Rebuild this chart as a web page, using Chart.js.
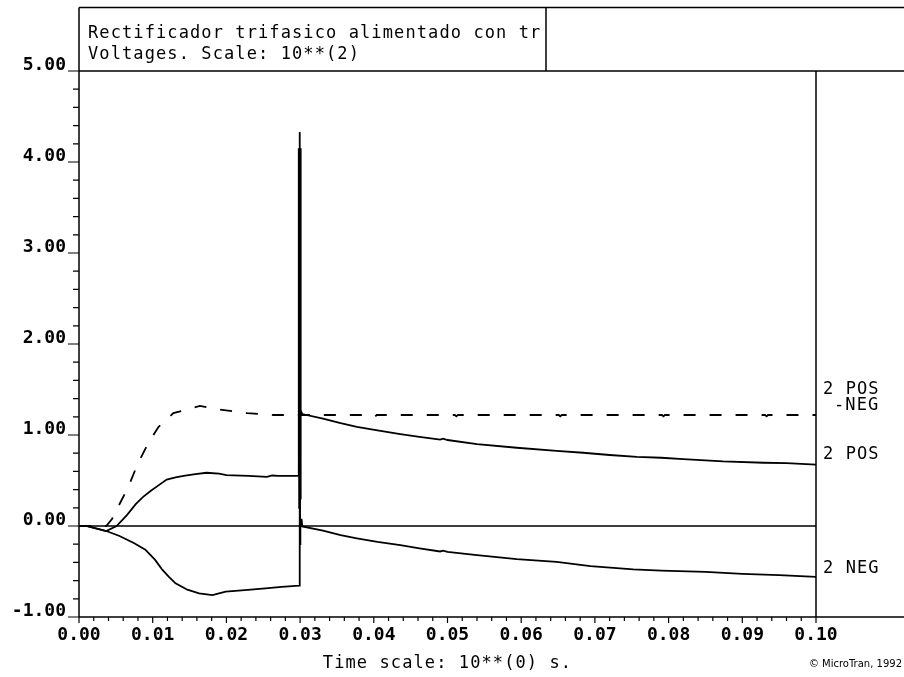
<!DOCTYPE html>
<html>
<head>
<meta charset="UTF-8">
<title>Rectificador trifasico</title>
<script src="https://cdn.jsdelivr.net/npm/chart.js"></script>
<style>
  body { margin: 0; background: #fff; }
  #plot { display: block; }
</style>
</head>
<body>
<canvas id="plot" width="904" height="677"></canvas>
<script>
// time in s, voltages in 10**2 V
const tPos = [0, 0.001, 0.0037, 0.0051, 0.0065, 0.0077, 0.0087, 0.0098, 0.0105, 0.0119, 0.0131, 0.0142, 0.0158, 0.0173, 0.0190, 0.0200, 0.0230, 0.0255, 0.0262, 0.0270, 0.0298,
  0.02982, 0.02988, 0.02994, 0.0300, 0.03006, 0.0301,
  0.0303, 0.0331, 0.0355, 0.0377, 0.0405, 0.0436, 0.0462, 0.0490, 0.0494, 0.0500, 0.0540, 0.0594, 0.0648, 0.0684, 0.0720, 0.0757, 0.0790, 0.0820, 0.0874, 0.0929, 0.0960, 0.1000];
const vPos = [0, 0, -0.055, 0, 0.12, 0.24, 0.32, 0.39, 0.43, 0.51, 0.535, 0.55, 0.57, 0.585, 0.575, 0.56, 0.55, 0.54, 0.555, 0.55, 0.55,
  4.15, 0.2, 4.15, 0.3, 4.15, 1.27,
  1.23, 1.18, 1.13, 1.09, 1.05, 1.01, 0.98, 0.95, 0.96, 0.945, 0.90, 0.86, 0.825, 0.805, 0.78, 0.76, 0.75, 0.735, 0.71, 0.695, 0.69, 0.675];

const tNeg = [0, 0.001, 0.0037, 0.0055, 0.0075, 0.0090, 0.0103, 0.0113, 0.0122, 0.0131, 0.0147, 0.0163, 0.0181, 0.0199, 0.0225, 0.0253, 0.0275, 0.0299,
  0.02995, 0.0300, 0.03004, 0.0302,
  0.0303, 0.0331, 0.0355, 0.0377, 0.0405, 0.0436, 0.0462, 0.0490, 0.0494, 0.0500, 0.0540, 0.0594, 0.0648, 0.0694, 0.0752, 0.0790, 0.0850, 0.0900, 0.0950, 0.1000];
const vNeg = [0, 0, -0.055, -0.11, -0.19, -0.26, -0.37, -0.48, -0.56, -0.63, -0.70, -0.74, -0.76, -0.72, -0.705, -0.685, -0.67, -0.655,
  4.33, -0.2, 0.07, 0.07,
  -0.005, -0.05, -0.10, -0.135, -0.175, -0.21, -0.245, -0.28, -0.27, -0.285, -0.32, -0.365, -0.395, -0.44, -0.476, -0.49, -0.505, -0.525, -0.54, -0.56];

const tDiff = [0, 0.0037, 0.0045, 0.0053, 0.0067, 0.0080, 0.0094, 0.0108, 0.0128, 0.0155, 0.0164, 0.0191, 0.0228, 0.0264, 0.0298,
  0.0302, 0.0400, 0.0402, 0.0404, 0.0510, 0.0512, 0.0514, 0.0651, 0.0653, 0.0655, 0.0791, 0.0793, 0.0795, 0.0931, 0.0933, 0.0935, 0.1000];
const vDiff = [0, 0, 0.08, 0.21, 0.43, 0.69, 0.91, 1.09, 1.24, 1.30, 1.32, 1.28, 1.24, 1.22, 1.22,
  1.22, 1.22, 1.205, 1.22, 1.22, 1.205, 1.22, 1.22, 1.205, 1.22, 1.22, 1.205, 1.22, 1.22, 1.205, 1.22, 1.22];

const xMajor = [0, 0.01, 0.02, 0.03, 0.04, 0.05, 0.06, 0.07, 0.08, 0.09, 0.10];
const yMajor = [-1, 0, 1, 2, 3, 4, 5];
const titleLines = ['Rectificador trifasico alimentado con tr', 'Voltages. Scale: 10**(2)'];
const curveLabels = ['2 POS', '-NEG', '2 POS', '2 NEG'];
const xTitle = 'Time scale: 10**(0) s.';
const credit = '\u00a9 MicroTran, 1992';

function pts(t, v) {
  return t.map((x, i) => ({ x: x, y: v[i] }));
}

const MONO = '"DejaVu Sans Mono", "Liberation Mono", monospace';

const frame = {
  id: 'frame',
  afterDraw(chart) {
    const ctx = chart.ctx;
    const a = chart.chartArea;
    const xs = chart.scales.x;
    const ys = chart.scales.y;
    const W = chart.width;
    ctx.save();
    ctx.strokeStyle = '#000';
    ctx.lineWidth = 1.5;
    ctx.beginPath();
    // title box
    ctx.moveTo(a.left, 7.5); ctx.lineTo(W, 7.5);
    ctx.moveTo(a.left, 7.5); ctx.lineTo(a.left, a.bottom);
    ctx.moveTo(546, 7.5); ctx.lineTo(546, a.top);
    // plot frame
    ctx.moveTo(a.left, a.top); ctx.lineTo(W, a.top);
    ctx.moveTo(a.left, a.bottom); ctx.lineTo(W, a.bottom);
    ctx.moveTo(a.right, a.top); ctx.lineTo(a.right, a.bottom);
    const y0 = ys.getPixelForValue(0);
    ctx.moveTo(a.left, y0); ctx.lineTo(a.right, y0);
    ctx.stroke();

    // ticks
    ctx.lineWidth = 1.2;
    ctx.beginPath();
    for (let k = 0; k <= 30; k++) {
      const y = ys.getPixelForValue(-1 + k * 0.2);
      const len = k % 5 === 0 ? 11 : 6;
      ctx.moveTo(a.left - len, y); ctx.lineTo(a.left, y);
    }
    for (let k = 0; k <= 50; k++) {
      const x = xs.getPixelForValue(k * 0.002);
      const len = k % 5 === 0 ? 6 : 4;
      ctx.moveTo(x, a.bottom); ctx.lineTo(x, a.bottom + len);
    }
    ctx.stroke();

    // texts
    ctx.fillStyle = '#000';
    ctx.textBaseline = 'alphabetic';
    ctx.font = '17px ' + MONO;
    ctx.letterSpacing = '1.1px';
    ctx.textAlign = 'left';
    ctx.fillText(titleLines[0], 88, 38);
    ctx.fillText(titleLines[1], 88, 59);

    const lx = a.right + 7;
    ctx.fillText(curveLabels[0], lx, 394);
    ctx.fillText(curveLabels[1], lx + 11, 410);
    ctx.fillText(curveLabels[2], lx, 459);
    ctx.fillText(curveLabels[3], lx, 573);

    ctx.textAlign = 'center';
    ctx.fillText(xTitle, (a.left + a.right) / 2, 668);

    ctx.letterSpacing = '0px';
    ctx.font = '10px "DejaVu Sans", sans-serif';
    ctx.textAlign = 'right';
    ctx.fillText(credit, 902, 667);
    ctx.restore();
  }
};

const lineStyle = { borderColor: '#000', borderWidth: 1.8, pointRadius: 0, tension: 0, fill: false };

new Chart(document.getElementById('plot'), {
  type: 'line',
  data: {
    datasets: [
      Object.assign({ label: '2 POS -NEG', data: pts(tDiff, vDiff), borderDash: [12, 14] }, lineStyle),
      Object.assign({ label: '2 POS', data: pts(tPos, vPos) }, lineStyle),
      Object.assign({ label: '2 NEG', data: pts(tNeg, vNeg) }, lineStyle)
    ]
  },
  options: {
    responsive: false,
    animation: false,
    devicePixelRatio: 1,
    layout: { padding: { top: 71, right: 88, left: 0, bottom: 0 } },
    plugins: { legend: { display: false }, tooltip: { enabled: false } },
    scales: {
      x: {
        type: 'linear', min: 0, max: 0.1,
        afterBuildTicks: s => { s.ticks = xMajor.map(v => ({ value: v })); },
        afterFit: s => { s.height = 60; },
        grid: { display: false },
        border: { display: false },
        ticks: {
          autoSkip: false, maxRotation: 0, padding: 0, color: '#000',
          font: { family: MONO, size: 18, weight: 'bold' },
          callback: v => v.toFixed(2)
        }
      },
      y: {
        type: 'linear', min: -1, max: 5,
        afterBuildTicks: s => { s.ticks = yMajor.map(v => ({ value: v })); },
        afterFit: s => { s.width = 79; },
        grid: { display: false },
        border: { display: false },
        ticks: {
          padding: 5, labelOffset: -6, color: '#000',
          font: { family: MONO, size: 18, weight: 'bold' },
          callback: v => v.toFixed(2)
        }
      }
    }
  },
  plugins: [frame]
});
</script>
</body>
</html>
